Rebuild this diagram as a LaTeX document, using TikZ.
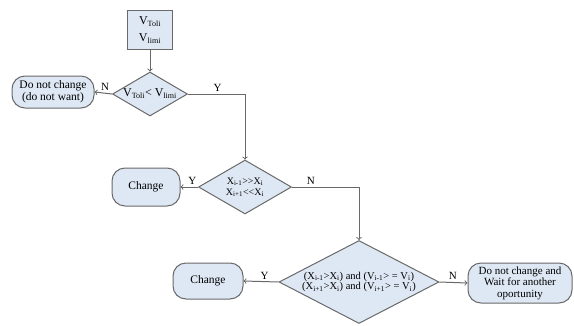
\documentclass[tikz,border=0pt]{standalone}
\usepackage{fontspec}
\setmainfont{Liberation Serif}
\usetikzlibrary{shapes.geometric}
\usetikzlibrary{calc}
\definecolor{boxfill}{RGB}{222,232,244}
\definecolor{boxline}{RGB}{105,105,105}

\begin{document}
\begin{tikzpicture}[x=1pt,y=-1pt]

                \tikzstyle{inbox}  = [rectangle, draw=boxline, fill=boxfill, line width=1pt, minimum width=45pt, minimum height=39pt, inner sep=0pt, align=center]
                \tikzstyle{test}   = [diamond, draw=boxline, fill=boxfill, line width=1pt, inner sep=0pt]
                \tikzstyle{result} = [rectangle, rounded corners=13pt, draw=boxline, fill=boxfill, line width=1pt, inner sep=0pt, align=center, font=\fontsize{11.5}{12}\selectfont]
                \tikzstyle{flow}   = [draw=boxline, line width=1pt, ->]
                \tikzstyle{yn}     = [font=\fontsize{11}{12}\selectfont, inner sep=2pt]
                \useasboundingbox (0,0) rectangle (574,325);
                \node [inbox, font=\fontsize{12}{17}\selectfont](vin) at (150,30) {V\textsubscript{Toli}\\V\textsubscript{limi}};
                \node [test, minimum width=75pt, minimum height=44pt, label={[font=\fontsize{12}{14}\selectfont]center:V\textsubscript{Toli}< V\textsubscript{limi}}](cmp) at (150,94) {};
                \node [result, minimum width=82pt, minimum height=32pt](nowant) at (53,92) {Do not change\\(do not want)};
                \node [test, minimum width=93pt, minimum height=54pt, label={[font=\fontsize{10}{11}\selectfont, align=center]center:X\textsubscript{i-1}>{}>X\textsubscript{i}\\X\textsubscript{i+1}<{}<X\textsubscript{i}}](jump) at (245,187) {};
                \node [result, minimum width=68pt, minimum height=38pt](chg1) at (146,187) {Change};
                \node [test, minimum width=160pt, minimum height=83pt, label={[font=\fontsize{10.5}{10.5}\selectfont, align=center]center:(X\textsubscript{i-1}>X\textsubscript{i}) and (V\textsubscript{i-1}> = V\textsubscript{i})\\(X\textsubscript{i+1}>X\textsubscript{i}) and (V\textsubscript{i+1}> = V\textsubscript{i})}](both) at (359,282) {};
                \node [result, minimum width=70pt, minimum height=36pt](chg2) at (208,281) {Change};
                \node [result, minimum width=104pt, minimum height=40pt, font=\fontsize{11}{11.5}\selectfont](wait) at (520,283) {Do not change and\\Wait for another\\oportunity};
                \draw [flow] (vin) -- (cmp);
                \draw [flow] (cmp.west) -- (nowant.east) node [yn, above, pos=0.4] {N};
                \draw [flow] (cmp.east) -| (jump.north) node [yn, above, pos=0.26] {Y};
                \draw [flow] (jump.west) -- (chg1.east) node [yn, above, pos=0.33] {Y};
                \draw [flow] (jump.east) -| (both.north) node [yn, above, pos=0.14] {N};
                \draw [flow] (both.west) -- (chg2.east) node [yn, above, pos=0.4] {Y};
                \draw [flow] (both.east) -- (wait.west) node [yn, above, pos=0.48] {N};
\end{tikzpicture}
\end{document}
